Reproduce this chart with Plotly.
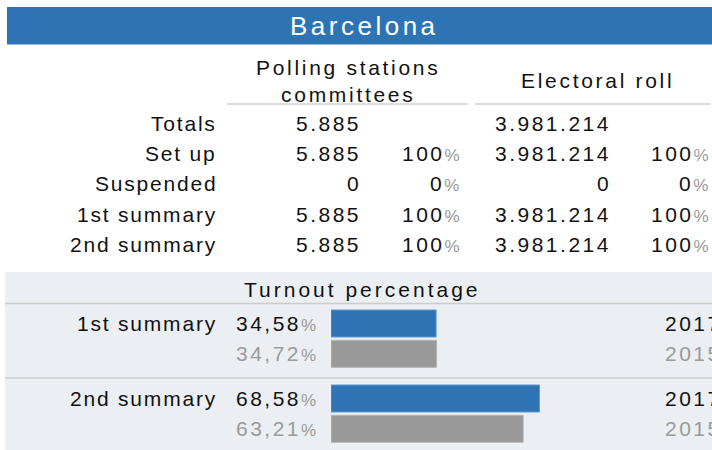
import plotly.graph_objects as go

W, H = 712, 450

# ---- data ----
title = "Barcelona"
col_headers = ["Polling stations<br>committees", "Electoral roll"]
row_labels = ["Totals", "Set up", "Suspended", "1st summary", "2nd summary"]
stations_values = ["5.885", "5.885", "0", "5.885", "5.885"]
stations_pct = [None, "100", "0", "100", "100"]
roll_values = ["3.981.214", "3.981.214", "0", "3.981.214", "3.981.214"]
roll_pct = [None, "100", "0", "100", "100"]

turnout_title = "Turnout percentage"
turnout_labels = ["1st summary", "2nd summary"]
turnout_2017 = [34.58, 68.58]
turnout_2015 = [34.72, 63.21]
years = ["2017", "2015"]

BLUE = "#2E74B5"
GREY_BAR = "#999999"
GREY_TXT = "#9A9A9A"
PANEL = "#EBEEF3"
FONT = "Liberation Sans"
FS = 21
LS_HEAD = 2.7   # headers
LS_LAB = 1.8    # row labels
LS_NUM = 2.5    # numbers


def fx(px):
    return px / W


def fy(py):
    return 1 - py / H


def fmt_pct(v):
    return f"{v:.2f}".replace(".", ",")


def sp(text, ls, color=None, size=None):
    style = f"letter-spacing:{ls}px"
    if color:
        style += f";color:{color}"
    if size:
        style += f";font-size:{size}px"
    return f"<span style='{style}'>{text}</span>"


def pct_sign():
    return sp("%", 0.5, GREY_TXT, 17)


annotations = []
shapes = []


def add_text(text, x, y, xanchor="right", size=FS, color="#111111"):
    annotations.append(dict(
        text=text, x=fx(x), y=fy(y), xref="paper", yref="paper",
        xanchor=xanchor, yanchor="middle", showarrow=False,
        font=dict(family=FONT, size=size, color=color),
    ))


# title bar
shapes.append(dict(type="rect", xref="paper", yref="paper",
                   x0=fx(7), x1=fx(712), y0=fy(44.5), y1=fy(7),
                   fillcolor=BLUE, line=dict(width=0), layer="below"))
add_text(sp(title, 3.5), 364, 26.5, xanchor="center", size=26, color="white")

# column headers
add_text(sp(col_headers[0], LS_HEAD), 348, 81, xanchor="center")
add_text(sp(col_headers[1], LS_HEAD), 597, 81, xanchor="center")
for x0, x1 in [(227, 468), (475, 711)]:
    shapes.append(dict(type="line", xref="paper", yref="paper",
                       x0=fx(x0), x1=fx(x1), y0=fy(104), y1=fy(104),
                       line=dict(color="#DDDDDD", width=2)))

# table rows
row_y0, row_dy = 123.5, 30.2
for i, lab in enumerate(row_labels):
    y = row_y0 + i * row_dy
    add_text(sp(lab, LS_LAB), 219, y)
    add_text(sp(stations_values[i], LS_NUM), 363, y)
    add_text(sp(roll_values[i], LS_NUM), 613, y)
    if stations_pct[i] is not None:
        add_text(sp(stations_pct[i], LS_NUM) + pct_sign(), 462, y)
    if roll_pct[i] is not None:
        add_text(sp(roll_pct[i], LS_NUM) + pct_sign(), 711, y)

# turnout panel
shapes.append(dict(type="rect", xref="paper", yref="paper",
                   x0=fx(5), x1=fx(712), y0=fy(450), y1=fy(272),
                   fillcolor=PANEL, line=dict(width=0), layer="below"))
add_text(sp(turnout_title, 3.0), 362, 289, xanchor="center")
for yl in [303.5, 378]:
    shapes.append(dict(type="line", xref="paper", yref="paper",
                       x0=fx(5), x1=fx(712), y0=fy(yl), y1=fy(yl),
                       line=dict(color="#CCCCCC", width=1.5)))

group_y0, group_dy, pair_dy = 323.5, 75, 30.3
bar_y17, bar_y15 = [], []
for g, lab in enumerate(turnout_labels):
    yc = group_y0 + g * group_dy
    bar_y17.append(yc)
    bar_y15.append(yc + pair_dy)
    add_text(sp(lab, LS_LAB), 219, yc)
    add_text(sp(fmt_pct(turnout_2017[g]), LS_NUM) + pct_sign(), 319, yc)
    add_text(sp(fmt_pct(turnout_2015[g]), LS_NUM, GREY_TXT) + pct_sign(), 319, yc + pair_dy)
    add_text(sp(years[0], LS_NUM), 663, yc, xanchor="left")
    add_text(sp(years[1], LS_NUM, GREY_TXT), 663, yc + pair_dy, xanchor="left", color=GREY_TXT)

fig = go.Figure()
fig.add_trace(go.Bar(x=turnout_2017, y=bar_y17, orientation="h", width=27,
                     marker=dict(color=BLUE, line=dict(color="#5B9BD5", width=1)),
                     hoverinfo="skip"))
fig.add_trace(go.Bar(x=turnout_2015, y=bar_y15, orientation="h", width=27,
                     marker=dict(color=GREY_BAR, line=dict(color="#B5B5B5", width=1)),
                     hoverinfo="skip"))

fig.update_layout(
    width=W, height=H, margin=dict(l=0, r=0, t=0, b=0),
    paper_bgcolor="white", plot_bgcolor="rgba(0,0,0,0)",
    showlegend=False, barmode="overlay",
    xaxis=dict(domain=[331 / W, 635 / W], range=[0, 100], visible=False, fixedrange=True),
    yaxis=dict(domain=[0, 1], range=[H, 0], visible=False, fixedrange=True),
    annotations=annotations, shapes=shapes,
    font=dict(family=FONT),
)

fig.write_html("out.html", config={"displayModeBar": False},
               post_script="document.body.style.margin='0';")
